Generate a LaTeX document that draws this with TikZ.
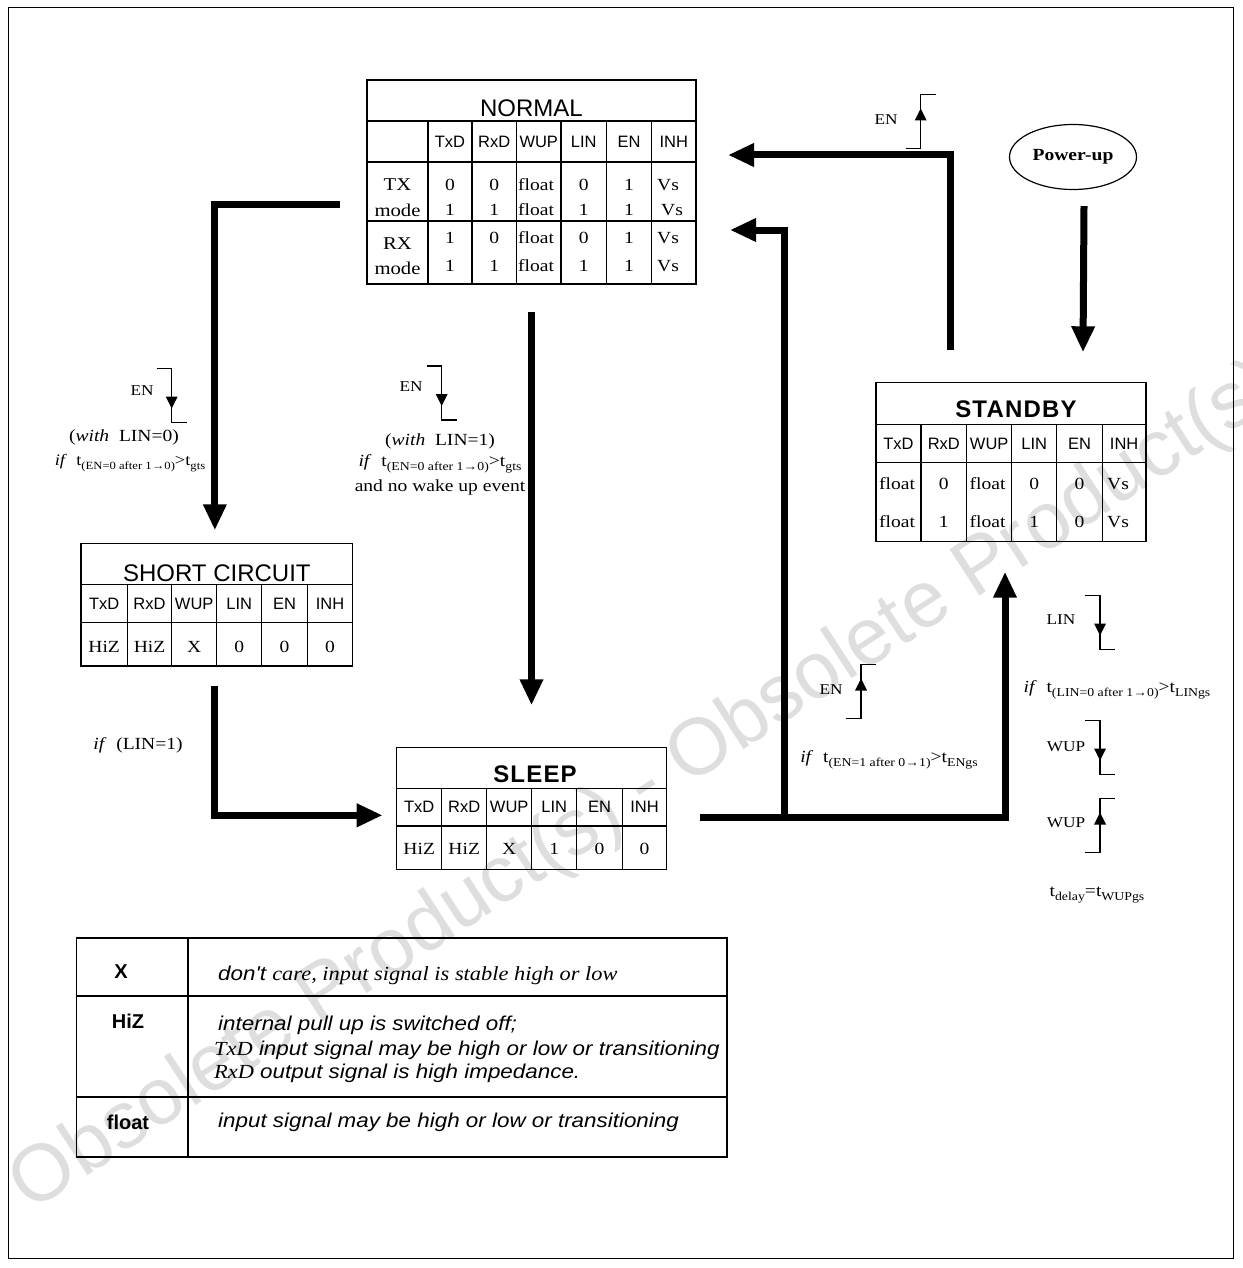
\documentclass[tikz,border=0pt]{standalone}
\usepackage{fontspec}
\setmainfont{Liberation Serif}[FakeStretch=1.15]
\setsansfont{Liberation Sans}
\newfontfamily\legsf{Liberation Sans}[FakeStretch=1.12]
\newfontfamily\legrm{Liberation Serif}[FakeStretch=1.12]
\newfontfamily\ttlbf{Liberation Sans Bold}[LetterSpace=5]
\usetikzlibrary{arrows.meta,shapes.geometric,calc}
\newcommand\fsz[1]{\fontsize{#1}{#1}\selectfont}
\newcommand\lsub[1]{\raisebox{-4pt}{\fsz{12}#1}}
\newcommand\ssub[1]{\raisebox{-4pt}{\fsz{11}#1}}
\begin{document}
\begin{tikzpicture}[x=1pt,y=-1pt,
 tl/.style={line width=1.3pt},
 tbox/.style={draw,line width=1.3pt,inner sep=0pt,outer sep=0pt,rectangle},
 big/.style={line width=7pt,-{Triangle[length=26pt,width=22pt]}},
 hdr/.style={font=\sffamily\fsz{16.5},inner sep=0pt,anchor=base},
 ttl/.style={font=\sffamily\fsz{24},inner sep=0pt,anchor=base},
 bttl/.style={font=\ttlbf\fsz{24},inner sep=0pt,anchor=base},
 val/.style={font=\rmfamily\fsz{17},inner sep=0pt,anchor=base},
 lval/.style={val,anchor=base west},
 lbl/.style={font=\rmfamily\fsz{15},inner sep=0pt},
 cnd/.style={font=\rmfamily\fsz{17},inner sep=0pt},
 lkey/.style={font=\sffamily\bfseries\fsz{20},inner sep=0pt,anchor=base},
 ltxt/.style={font=\legsf\itshape\fsz{20},inner sep=0pt,anchor=base west},
 sym/.style={line width=1.2pt},
 fedge/.pic={\draw[sym] (-15,-27) -- (0,-27) -- (0,27) -- (15,27); \fill (-6,1) -- (6,1) -- (0,13) -- cycle;},
 redge/.pic={\draw[sym] (-15,27) -- (0,27) -- (0,-27) -- (15,-27); \fill (-6,-1) -- (6,-1) -- (0,-13) -- cycle;},
]
\fill[white] (0,0) rectangle (1242,1268);
\useasboundingbox (0,0) rectangle (1242,1268);
% watermark
\node[rotate=33,text=black!13,font=\sffamily\fsz{80},inner sep=0pt] (wm) at (646,788) {Obsolete Product(s) - Obsolete Product(s)};
% frame
\draw[line width=1pt] (8,8) rectangle (1233,1258);

% ---------------- NORMAL
\node[tbox,minimum width=329pt,minimum height=204pt] (normal) at (531.5,182) {};
\draw[tl] (367,121) -- (696,121) (367,162) -- (696,162) (367,221) -- (696,221);
\foreach \x in {428,472,516.5,561,606.5,651.5} \draw[tl] (\x,121) -- (\x,284);
\node[ttl] (normal-t) at (531.5,116.5) {NORMAL};
\foreach \x/\lab [count=\i] in {450/TxD,494.25/RxD,538.75/WUP,583.75/LIN,629/EN,673.75/INH}
  \node[hdr] (normal-h\i) at (\x,148) {\lab};
\node[val,font=\rmfamily\fsz{18}] (normal-m1) at (397.5,191) {TX};
\node[val,font=\rmfamily\fsz{18}] (normal-m2) at (397.5,216) {mode};
\node[val,font=\rmfamily\fsz{18}] (normal-m3) at (397.5,249) {RX};
\node[val,font=\rmfamily\fsz{18}] (normal-m4) at (397.5,274) {mode};
\foreach \y/\a/\b/\c/\d/\v [count=\i] in {190.5/0/0/0/1/657, 215.5/1/1/1/1/661, 243.5/1/0/0/1/657, 271.5/1/1/1/1/657}{
  \node[val] (normal-r\i a) at (450,\y) {\a};
  \node[val] (normal-r\i b) at (494.25,\y) {\b};
  \node[lval] (normal-r\i c) at (518,\y) {float};
  \node[val] (normal-r\i d) at (583.75,\y) {\c};
  \node[val] (normal-r\i e) at (629,\y) {\d};
  \node[lval] (normal-r\i f) at (\v,\y) {Vs};
}

% ---------------- STANDBY
\node[tbox,minimum width=270pt,minimum height=159.4pt] (standby) at (1011,462) {};
\draw[tl] (876,424.3) -- (1146,424.3) (876,462.3) -- (1146,462.3);
\foreach \x in {921,966.7,1011.7,1056.7,1102.3} \draw[tl] (\x,424.3) -- (\x,541.7);
\node[bttl] (standby-t) at (1016,417) {STANDBY};
\foreach \x/\lab [count=\i] in {898.5/TxD,943.85/RxD,989.2/WUP,1034.2/LIN,1079.5/EN,1124.15/INH}
  \node[hdr] (standby-h\i) at (\x,449.5) {\lab};
\foreach \y/\a [count=\i] in {489/0,527/1}{
  \node[lval] (standby-r\i a) at (879,\y) {float};
  \node[val] (standby-r\i b) at (943.85,\y) {\a};
  \node[lval] (standby-r\i c) at (969.5,\y) {float};
  \node[val] (standby-r\i d) at (1034.2,\y) {\a};
  \node[val] (standby-r\i e) at (1079.5,\y) {0};
  \node[lval] (standby-r\i f) at (1107,\y) {Vs};
}

% ---------------- SHORT CIRCUIT
\node[tbox,minimum width=271.7pt,minimum height=122.7pt] (short) at (216.85,604.65) {};
\draw[tl] (81,584.3) -- (352.7,584.3) (81,622.7) -- (352.7,622.7);
\foreach \x in {127.3,171.7,216.7,261.7,307.3} \draw[tl] (\x,584.3) -- (\x,666);
\node[ttl] (short-t) at (216.85,581) {SHORT CIRCUIT};
\foreach \x/\lab/\v [count=\i] in {104.15/TxD/HiZ,149.5/RxD/HiZ,194.2/WUP/X,239.2/LIN/0,284.5/EN/0,330/INH/0}{
  \node[hdr] (short-h\i) at (\x,609.5) {\lab};
  \node[val] (short-v\i) at (\x,652.5) {\v};
}

% ---------------- SLEEP
\node[tbox,minimum width=270pt,minimum height=122pt] (sleep) at (531.7,808.3) {};
\draw[tl] (396.7,788.3) -- (666.7,788.3) (396.7,826) -- (666.7,826);
\foreach \x in {441.7,486.7,531.7,576.7,622.3} \draw[tl] (\x,788.3) -- (\x,869.3);
\node[bttl] (sleep-t) at (535,782) {SLEEP};
\foreach \x/\lab/\v [count=\i] in {419.2/TxD/HiZ,464.2/RxD/HiZ,509.2/WUP/X,554.2/LIN/1,599.5/EN/0,644.5/INH/0}{
  \node[hdr] (sleep-h\i) at (\x,812.5) {\lab};
  \node[val] (sleep-v\i) at (\x,854.5) {\v};
}

% ---------------- Power-up
\node[draw,ellipse,line width=1.2pt,minimum width=127pt,minimum height=65pt,inner sep=0pt,font=\rmfamily\bfseries\fsz{17}] (power) at (1073,157) {Power-up};

% ---------------- connectors
\draw[big] ($(normal.west)+(-27,22)$) -| ($(short.north)+(-2,-13)$);
\draw[big] ($(normal.south)+(0,28)$) -- ($(normal.south |- sleep.north)+(0,-42)$);
\draw[big] ($(short.south)+(-2,20)$) |- ($(sleep.west)+(-14,7)$);
\draw[big] ($(sleep.east)+(33,9)$) -| ($(standby.south)+(-6,30)$);
\draw[big] ($(sleep.east)+(118,9)$) |- ($(normal.east)+(34,48)$);
\draw[big] ($(standby.north)+(-61,-32)$) |- ($(normal.east)+(32,-27)$);
\draw[big] ($(power.south)+(11,16)$) -- ($(standby.north)+(72,-30)$);

% ---------------- transition labels
\node[lbl] (en1) at (142,391) {EN};
\pic (f1) at (171.7,395.5) {fedge};
\node[cnd] (c1a) at (124,437) {(\textit{with}\ \ LIN=0)};
\node[cnd,font=\rmfamily\fsz{16}] (c1b) at (130,463) {\textit{if}\ \ t\ssub{(EN=0 after 1→0)}>t\ssub{gts}};

\node[lbl] (en2) at (411,387) {EN};
\pic (f2) at (441.7,393) {fedge};
\node[cnd] (c2a) at (440,441) {(\textit{with}\ \ LIN=1)};
\node[cnd] (c2b) at (440,464) {\textit{if}\ \ t\lsub{(EN=0 after 1→0)}>t\lsub{gts}};
\node[cnd] (c2c) at (440,487) {and no wake up event};

\node[lbl] (en3) at (886,120) {EN};
\pic (r1) at (920.7,121.5) {redge};

\node[lbl] (en4) at (831,690) {EN};
\pic (r2) at (861,691.5) {redge};
\node[cnd] (c4) at (889,760) {\textit{if}\ \ t\lsub{(EN=1 after 0→1)}>t\lsub{ENgs}};

\node[lbl] (lin5) at (1061,620) {LIN};
\pic (f5) at (1100,622.5) {fedge};
\node[cnd] (c5) at (1117,690) {\textit{if}\ \ t\lsub{(LIN=0 after 1→0)}>t\lsub{LINgs}};
\node[lbl] (wup6) at (1066,747) {WUP};
\pic (f6) at (1100,747.5) {fedge};
\node[lbl] (wup7) at (1066,823) {WUP};
\pic (r7) at (1100,825.5) {redge};
\node[cnd] (c7) at (1097,895) {t\lsub{delay}=t\lsub{WUPgs}};

\node[cnd] (c3) at (138,745) {\textit{if}\ \ (LIN=1)};

% ---------------- legend
\node[tbox,minimum width=650.3pt,minimum height=219pt] (legend) at (401.85,1047.5) {};
\draw[tl] (188,938) -- (188,1157) (76.7,996) -- (727,996) (76.7,1097) -- (727,1097);
\node[lkey] (k1) at (121,978) {X};
\node[lkey] (k2) at (128,1028) {HiZ};
\node[lkey] (k3) at (128,1129) {float};
\node[ltxt] (d1) at (218,980) {don't {\legrm\itshape care, input signal is stable high or low}};
\node[ltxt] (d2) at (218,1030) {internal pull up is switched off;};
\node[ltxt] (d3) at (214,1055) {{\legrm\itshape TxD} input signal may be high or low or transitioning};
\node[ltxt] (d4) at (214,1078) {{\legrm\itshape RxD} output signal is high impedance.};
\node[ltxt] (d5) at (218,1127) {input signal may be high or low or transitioning};
\end{tikzpicture}
\end{document}
